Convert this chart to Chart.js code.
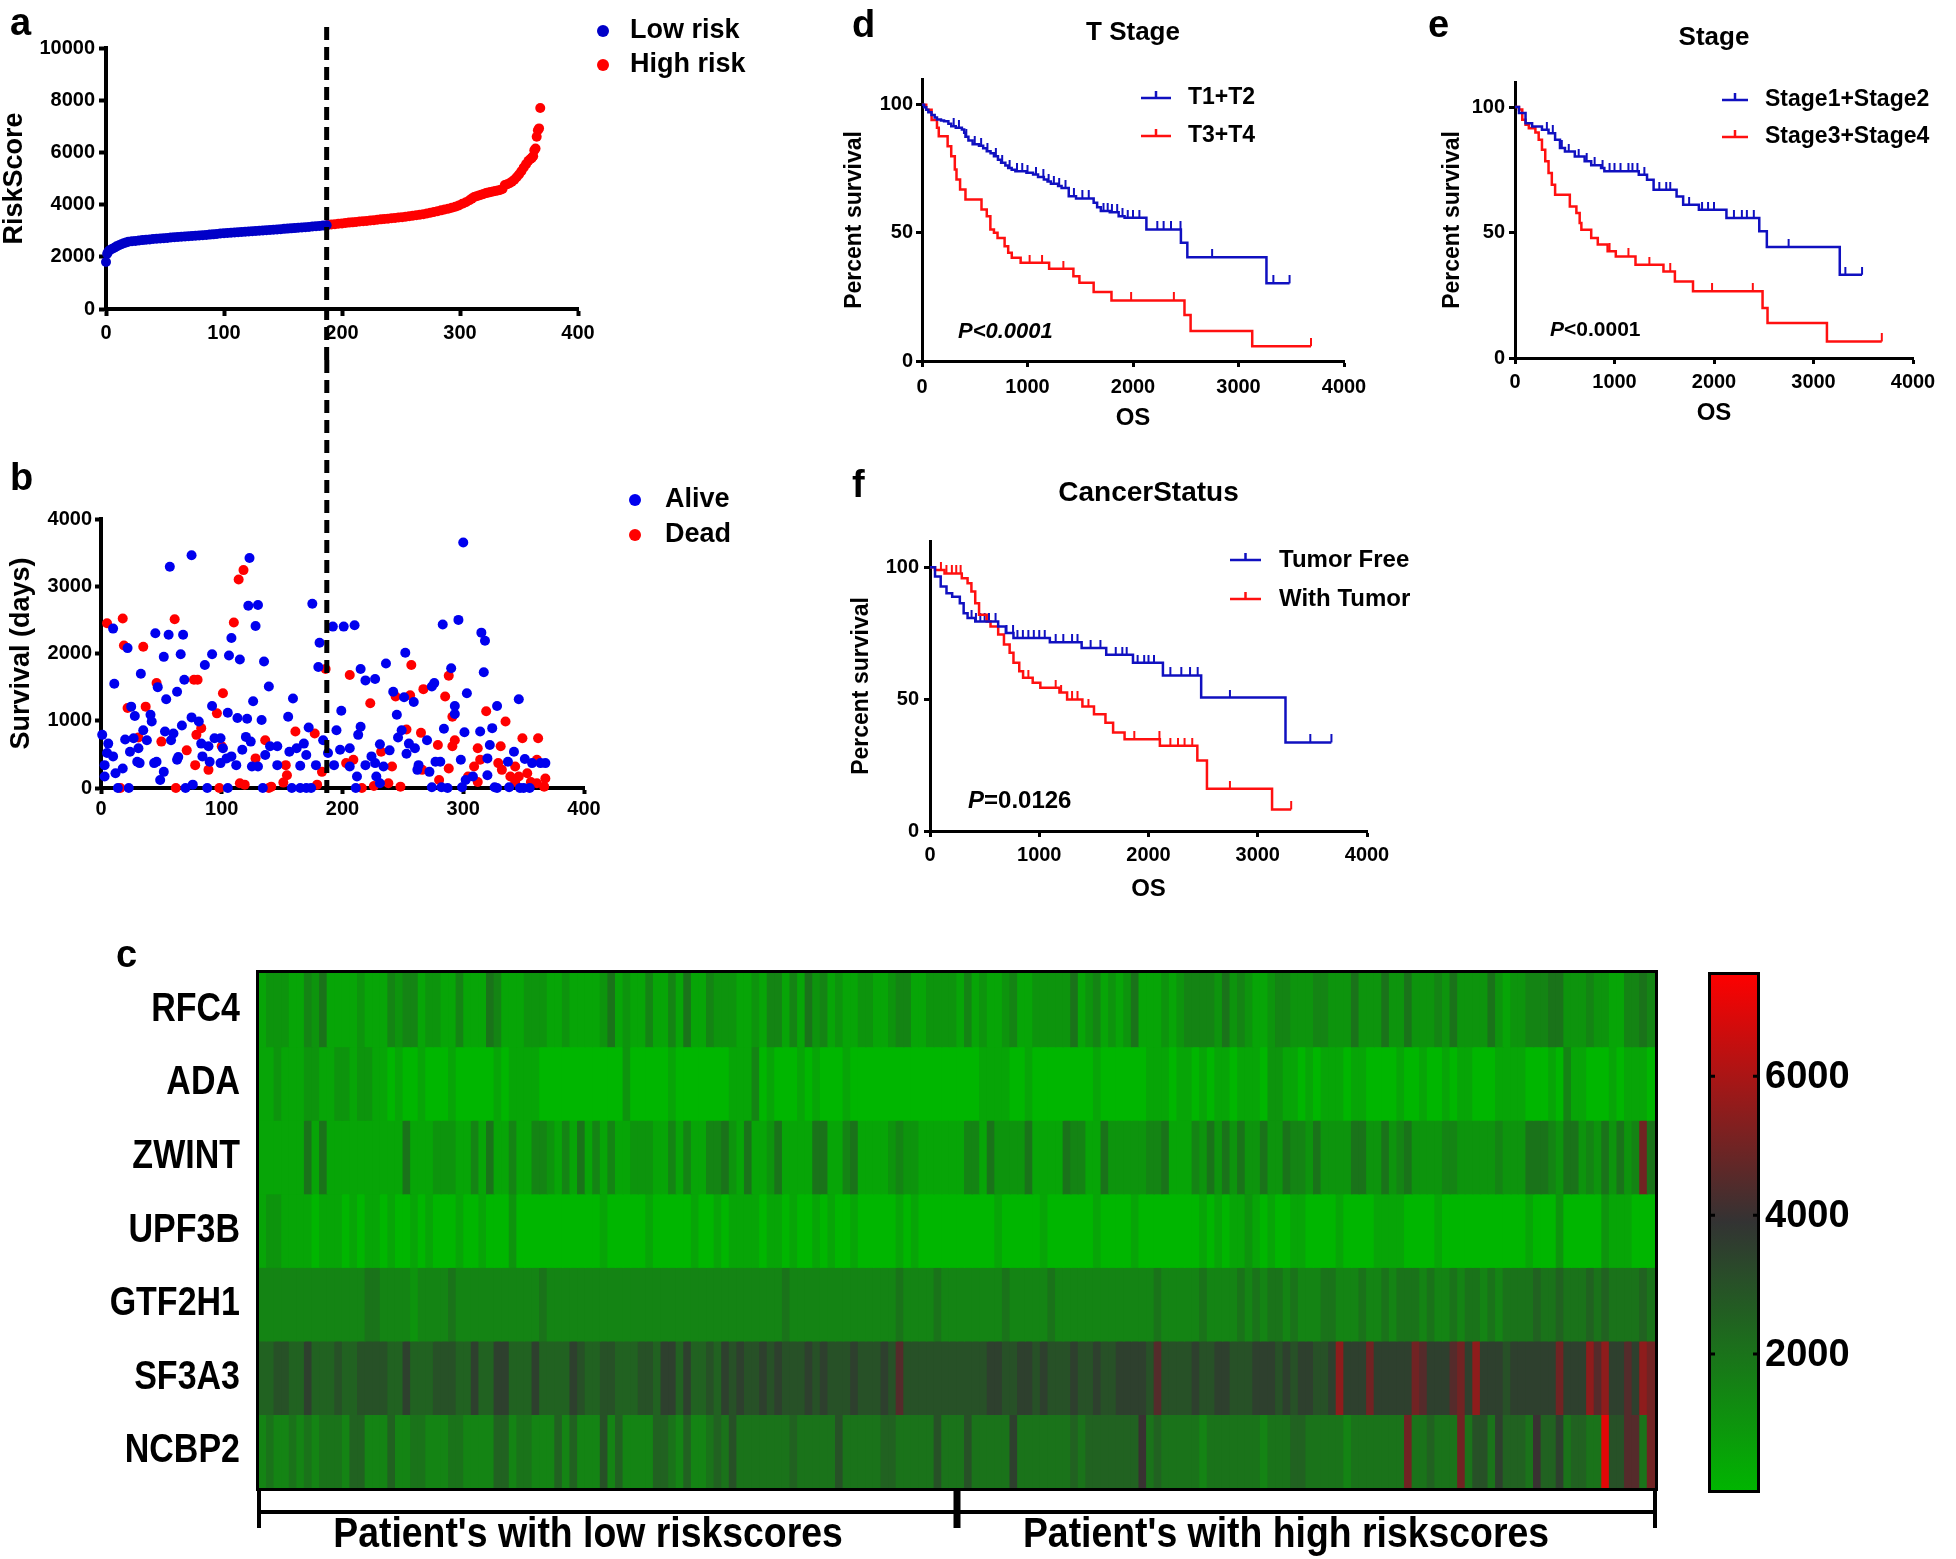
<!DOCTYPE html>
<html>
<head>
<meta charset="utf-8">
<title>Risk score model</title>
<script src="https://cdn.jsdelivr.net/npm/chart.js@4.4.1/dist/chart.umd.min.js"></script>
<style>
  html, body { margin: 0; padding: 0; background: #fff; }
  body { position: relative; width: 1956px; height: 1559px; overflow: hidden; }
  .panel { position: absolute; }
  .tag { position: absolute; font: bold 38px/38px "Liberation Sans", Arial, sans-serif; color: #000; }
</style>
</head>
<body>
<canvas id="riskChart" class="panel"></canvas>
<canvas id="survChart" class="panel"></canvas>
<canvas id="tStageChart" class="panel"></canvas>
<canvas id="stageChart" class="panel"></canvas>
<canvas id="statusChart" class="panel"></canvas>
<canvas id="heatChart" class="panel"></canvas>
<canvas id="scaleChart" class="panel"></canvas>

<div class="tag" style="left:10px;top:3px">a</div>
<div class="tag" style="left:10px;top:458px">b</div>
<div class="tag" style="left:116px;top:935px">c</div>
<div class="tag" style="left:852px;top:5px">d</div>
<div class="tag" style="left:1428px;top:5px">e</div>
<div class="tag" style="left:852px;top:465px">f</div>

<script>
// ---------- data ----------

// (a) risk score of each patient, sorted
const lowRiskIdx = [0, 1, 2, 3, 5, 7, 9, 11, 13, 15, 17, 19, 22, 25, 28, 31, 34, 37, 40, 43, 46, 49, 52, 55, 58, 61, 64, 67, 70, 73, 76, 79, 82, 85, 88, 91, 94, 97, 100, 103, 106, 109, 112, 115, 118, 121, 124, 127, 130, 133, 136, 139, 142, 145, 148, 151, 154, 157, 160, 163, 166, 169, 172, 175, 178, 181, 184, 187];
const lowRiskScore = [1800, 2120, 2200, 2250, 2300, 2350, 2400, 2440, 2480, 2520, 2550, 2580, 2600, 2610, 2625, 2640, 2650, 2665, 2680, 2690, 2700, 2715, 2725, 2740, 2750, 2760, 2770, 2780, 2790, 2800, 2810, 2820, 2830, 2840, 2850, 2860, 2875, 2890, 2900, 2910, 2920, 2930, 2940, 2950, 2960, 2970, 2980, 2990, 3000, 3010, 3020, 3030, 3040, 3050, 3060, 3070, 3080, 3090, 3100, 3110, 3120, 3130, 3140, 3160, 3170, 3180, 3195, 3210];
const highRiskIdx = [188, 191, 194, 197, 200, 203, 206, 209, 212, 215, 218, 221, 224, 227, 230, 233, 236, 239, 242, 245, 248, 251, 254, 257, 260, 263, 266, 269, 272, 275, 278, 281, 284, 287, 290, 293, 296, 299, 302, 305, 308, 310, 312, 314, 316, 318, 320, 322, 324, 326, 328, 330, 332, 334, 336, 338, 340, 342, 344, 346, 348, 350, 352, 354, 356, 358, 360, 361, 362, 363, 364, 365, 366, 367, 368];
const highRiskScore = [3220, 3235, 3250, 3265, 3280, 3295, 3310, 3320, 3335, 3350, 3360, 3375, 3390, 3405, 3420, 3435, 3445, 3460, 3475, 3490, 3505, 3520, 3535, 3555, 3570, 3590, 3610, 3635, 3660, 3690, 3720, 3750, 3780, 3810, 3840, 3880, 3920, 3970, 4030, 4090, 4170, 4230, 4290, 4320, 4350, 4380, 4410, 4440, 4460, 4480, 4500, 4520, 4540, 4560, 4600, 4750, 4780, 4820, 4880, 4950, 5050, 5150, 5280, 5420, 5550, 5680, 5760, 5800, 5850, 6080, 6150, 6600, 6850, 6920, 7700];
const cutoffIdx = 187;

// (b) survival time of each patient, [patient index, days]
const alivePoints = [
  [75, 3460], [57, 3290], [123, 3420], [122, 2710], [130, 2720], [128, 2410], [175, 2740], [192, 2400], [201, 2400], [181, 2160],
  [180, 1800], [10, 2370], [22, 2080], [45, 2300], [56, 2280], [68, 2280], [52, 1950], [66, 1990], [33, 1700], [11, 1550],
  [47, 1500], [54, 1320], [63, 1430], [69, 1610], [86, 1830], [92, 1990], [106, 1970], [115, 1910], [108, 2230], [135, 1880],
  [139, 1510], [159, 1330], [155, 1060], [199, 1150], [92, 1220], [105, 1120], [113, 1040], [121, 1030], [126, 1290], [133, 1010],
  [25, 1210], [28, 1070], [41, 1090], [42, 990], [35, 860], [38, 710], [53, 840], [60, 810], [58, 710], [67, 930],
  [75, 1050], [81, 990], [1, 790], [6, 660], [5, 520], [10, 470], [3, 340], [3, 170], [12, 220], [18, 290],
  [14, 0], [23, 0], [20, 720], [27, 740], [24, 540], [31, 590], [30, 390], [32, 370], [44, 370], [46, 390],
  [52, 240], [49, 120], [64, 460], [63, 420], [70, 0], [76, 50], [88, 0], [105, 0], [83, 660], [89, 620],
  [94, 740], [99, 740], [101, 590], [90, 390], [84, 470], [99, 370], [104, 440], [108, 470], [112, 340], [117, 570],
  [120, 760], [124, 690], [125, 320], [130, 320], [140, 620], [136, 490], [146, 620], [146, 340], [134, 0], [158, 0],
  [165, 0], [170, 0], [174, 0], [156, 540], [162, 590], [168, 660], [172, 900], [170, 490], [178, 340], [165, 330],
  [184, 710], [188, 520], [195, 860], [198, 570], [193, 340],
  [300, 3650], [210, 2420], [283, 2430], [296, 2500], [315, 2310], [318, 2190], [317, 1720], [215, 1770], [219, 1600], [227, 1620],
  [236, 1850], [252, 2010], [290, 1780], [242, 1430], [251, 1350], [259, 1280], [274, 1510], [276, 1560], [293, 1220], [293, 1100],
  [303, 1410], [328, 1220], [346, 1320], [245, 1090], [215, 910], [213, 790], [249, 860], [246, 750], [284, 880], [301, 830],
  [314, 840], [324, 890], [270, 710], [255, 660], [260, 590], [253, 510], [231, 650], [239, 560], [224, 470], [219, 340],
  [227, 370], [234, 320], [206, 590], [206, 320], [212, 170], [228, 170], [231, 70], [211, 0], [263, 340], [262, 270],
  [272, 240], [277, 390], [281, 390], [298, 420], [274, 10], [282, 10], [287, 0], [299, 10], [302, 120], [308, 170],
  [320, 440], [320, 190], [322, 640], [337, 390], [342, 540], [351, 430], [357, 370], [364, 370], [368, 370], [326, 10],
  [328, 0], [338, 10], [347, 0], [350, 0], [355, 0]
];
const deadPoints = [
  [118, 3240], [114, 3100], [110, 2460], [5, 2450], [18, 2520], [19, 2120], [35, 2100], [61, 2510], [186, 1770], [206, 1680],
  [46, 1560], [77, 1610], [80, 1610], [101, 1410], [96, 1110], [37, 1210], [22, 1190], [83, 890], [79, 790], [50, 690],
  [31, 750], [16, 0], [62, 0], [98, 0], [115, 70], [119, 50], [71, 560], [100, 620], [89, 270], [78, 340],
  [128, 440], [136, 710], [153, 340], [154, 190], [151, 80], [141, 20], [139, 0], [179, 50], [161, 840], [177, 810],
  [183, 240], [203, 370],
  [257, 1830], [288, 1670], [244, 1360], [256, 1380], [267, 1470], [285, 1360], [291, 1060], [319, 1140], [335, 990], [223, 1260],
  [253, 870], [265, 820], [293, 710], [291, 620], [279, 640], [232, 540], [241, 320], [209, 420], [238, 70], [248, 20],
  [226, 30], [216, 0], [266, 270], [288, 290], [280, 120], [304, 170], [309, 320], [312, 590], [314, 420], [312, 90],
  [331, 620], [329, 370], [332, 270], [343, 320], [339, 170], [349, 740], [362, 740], [361, 420], [353, 220], [346, 170],
  [368, 140], [361, 70], [356, 90], [367, 20], [343, 90]
];

// (d) T stage, Kaplan-Meier steps: time (days) and percent survival after that time
const t12Time = [0, 20, 40, 60, 90, 120, 142, 180, 209, 250, 277, 320, 378, 400, 412, 440, 480, 540, 580, 614, 650, 682, 720, 750, 790, 817, 850, 885, 990, 1053, 1100, 1155, 1190, 1222, 1290, 1323, 1391, 1460, 1627, 1660, 1695, 1780, 1864, 1920, 2127, 2454, 2515, 3265, 3484];
const t12Surv = [100, 99, 98, 97, 96, 95, 94.2, 93.8, 93.5, 92.5, 91.6, 91, 90.3, 89, 87.5, 86, 84.5, 84, 83, 81.8, 81, 79.9, 78.5, 77.3, 76.3, 75.3, 74.6, 74, 73.4, 72.7, 71.8, 70.8, 70, 69.1, 68.3, 67.5, 64.3, 63.4, 61.7, 60, 58.5, 58, 56.5, 55.9, 51.3, 46.1, 40.5, 30.3, 30.3];
const t12Censor = [300, 350, 420, 500, 560, 620, 700, 760, 830, 900, 950, 1000, 1080, 1150, 1200, 1250, 1300, 1360, 1440, 1520, 1580, 1720, 1760, 1800, 1850, 1900, 1950, 2000, 2060, 2230, 2290, 2360, 2450, 2750, 3330, 3484];
const t34Time = [0, 40, 91, 142, 159, 243, 277, 311, 327, 361, 412, 564, 614, 648, 682, 716, 783, 817, 851, 935, 1205, 1435, 1492, 1627, 1796, 2488, 2546, 3130, 3687];
const t34Surv = [100, 98, 94, 91, 87.7, 83.8, 79.9, 74.7, 70.8, 66.9, 63, 59.1, 56.5, 51.3, 50, 48, 44.8, 42.2, 40.3, 38.3, 36, 33.1, 30.5, 26.9, 23.6, 17.9, 11.7, 5.8, 5.8];
const t34Censor = [1020, 1138, 1340, 1982, 2387, 3687];

// (e) Stage
const s12Time = [0, 40, 106, 172, 271, 337, 403, 452, 502, 601, 700, 766, 865, 898, 1244, 1327, 1393, 1624, 1690, 1848, 2125, 2455, 2531, 3264, 3488];
const s12Surv = [100, 97.6, 93.6, 92.3, 91, 89.6, 87, 83.7, 82.3, 80.3, 78.4, 76.8, 75.7, 74.4, 73, 71, 67.1, 64.4, 61.1, 59.1, 55.8, 50.5, 44.2, 33.2, 33.2];
const s12Censor = [320, 380, 470, 540, 640, 720, 800, 880, 950, 1000, 1060, 1140, 1180, 1230, 1300, 1450, 1520, 1560, 1750, 1880, 1940, 2000, 2200, 2280, 2330, 2400, 2750, 3320, 3488];
const s34Time = [0, 40, 73, 106, 139, 205, 238, 271, 304, 337, 370, 403, 551, 617, 650, 667, 766, 832, 931, 1013, 1211, 1492, 1607, 1789, 2488, 2538, 3135, 3686];
const s34Surv = [100, 99, 95, 93, 91.6, 89.9, 87, 83, 78.4, 73.7, 69, 65.1, 60.4, 57.8, 53.8, 51.1, 47.8, 45.2, 42.5, 40.5, 37.2, 34.5, 30.5, 26.6, 19.9, 13.9, 6.6, 6.6];
const s34Censor = [950, 1140, 1350, 1560, 1980, 2390, 3686];

// (f) Cancer status
const freeTime = [0, 46, 98, 151, 203, 273, 308, 344, 414, 624, 694, 764, 1097, 1388, 1613, 1858, 2132, 2482, 3254, 3674];
const freeSurv = [100, 96.5, 92.7, 90.2, 88.9, 86.4, 82.6, 80.8, 79.5, 77.6, 75.1, 73.2, 71.6, 69.4, 66.9, 63.8, 59, 50.6, 33.6, 33.6];
const freeCensor = [380, 420, 460, 500, 540, 600, 700, 760, 800, 850, 900, 950, 1000, 1050, 1150, 1220, 1300, 1350, 1470, 1560, 1700, 1760, 1800, 1900, 1960, 2000, 2050, 2200, 2300, 2380, 2450, 2745, 3481, 3674];
const tumorTime = [0, 46, 133, 291, 344, 379, 414, 449, 519, 554, 624, 677, 729, 764, 817, 852, 940, 1010, 1185, 1255, 1395, 1501, 1606, 1676, 1781, 2104, 2447, 2535, 3131, 3306];
const tumorSurv = [100, 99, 97.7, 95.9, 94, 90.8, 86.4, 82, 79.5, 77.6, 74.5, 70.7, 67.6, 63.8, 60.6, 58.1, 56.2, 54.3, 52.5, 49.9, 47.2, 44.3, 41.1, 37.4, 34.8, 32.3, 26.7, 16, 8.2, 8.2];
const tumorCensor = [100, 150, 200, 240, 280, 900, 1150, 1200, 1300, 1350, 1450, 1870, 2100, 2200, 2270, 2330, 2400, 2745, 3306];

// (c) heatmap: one string per gene, one character per column (2 patients),
// hex digit = expression level in steps of 500
const genes = ['RFC4', 'ADA', 'ZWINT', 'UPF3B', 'GTF2H1', 'SF3A3', 'NCBP2'];
const heatLevels = [
  '1222113241 1112111323 3122113111 4311122211 2111124121 1311314113 22 ' +
  '2112133131 4231211221 1233112222 1312112311 2222241231 2124111212 33 ' +
  '3324232112 3322233222 4222422422 2324222242 1223334422 2322113343',
  '1121112211 2212211010 0100010000 0101111000 0000000020 0000100000 00 ' +
  '1113010001 0100010000 0000000000 0001111001 0000000010 0000011101 10 ' +
  '1011011102 2110101110 1100001001 0010110001 1110001031 1000101110',
  '1111114141 1111111114 1112221131 4113113321 3141313112 2211313113 34 ' +
  '2141124111 1441134111 1232211111 1331422224 1111433114 2222233411 13 ' +
  '2424242242 2433242222 4422423422 2233222223 2224443244 23242423A4',
  '1221111011 1010110100 1010001001 0002000000 0000010000 0100000100 10 ' +
  '1111011010 0101001000 0010100000 0000010000 0100000010 0001000000 00 ' +
  '1010112101 0011000010 0001111000 0100000000 0001000200 0002111000',
  '3333333333 3333443333 2333343333 3333333433 3333333333 3333333333 33 ' +
  '3333333433 3333333333 3343333433 3333334333 3343333333 3333334333 33 ' +
  '4333343434 4343334433 3433434443 4334344343 4444544544 4545444454',
  '5566557555 6556666557 5556665575 5775557555 5765566555 6657757556 57 ' +
  '6766767666 7676667666 7696666666 6666776677 6766676676 6777769666 67 ' +
  '6677666777 67677667B7 77A77777A9 7779A7B777 6777777A77 7B9B7797BA',
  '3433434344 4355333533 4433344333 3553443335 3533363533 3355435334 54 ' +
  '6444444454 4444644444 5544444644 4644444744 4444454555 5555845444 44 ' +
  '3444444434 4455444443 4444444A44 5444A46647 5554855745 544E66994A'
];
const levelStep = 500;
const groupNames = ["Patient's with low riskscores", "Patient's with high riskscores"];

// colour scale of the heatmap
const cmapStops = [0, 3900, 7500];
const cmapRGB = [[0, 182, 0], [51, 51, 51], [255, 0, 0]];
const cmapTicks = [2000, 4000, 6000];

// ---------- helpers ----------
const FONT = '"Liberation Sans", Arial, Helvetica, sans-serif';
Chart.defaults.font.family = FONT;
Chart.defaults.font.weight = 'bold';
Chart.defaults.color = '#000';
Chart.defaults.animation = false;
Chart.defaults.events = [];
Chart.defaults.plugins.legend.display = false;
Chart.defaults.plugins.tooltip.enabled = false;

const BLUE_A = '#0000c8';
const BLUE = '#0000ee';
const RED = '#ff0000';
const KM_BLUE = '#1010c0';
const KM_RED = '#ff1010';

function place(id, box) {
  const c = document.getElementById(id);
  c.width = box[2];
  c.height = box[3];
  c.style.left = box[0] + 'px';
  c.style.top = box[1] + 'px';
  c.style.width = box[2] + 'px';
  c.style.height = box[3] + 'px';
  return c;
}

// layout padding so that the plot area lands on `area` inside `box`
function padFor(box, area, leftAxis, bottomAxis, rightAxis) {
  return {
    left: area[0] - box[0] - leftAxis,
    top: area[1] - box[1],
    right: box[0] + box[2] - area[2] - (rightAxis || 0),
    bottom: box[1] + box[3] - area[3] - bottomAxis
  };
}

function linearAxis(o) {
  return {
    type: 'linear',
    min: o.min,
    max: o.max,
    border: { display: true, color: '#000', width: o.line },
    grid: { display: true, drawOnChartArea: false, drawTicks: true, tickLength: o.tick, tickWidth: o.line, tickColor: '#000' },
    ticks: {
      stepSize: o.step, includeBounds: false, autoSkip: false, maxRotation: 0,
      padding: o.pad, color: '#000', font: { size: o.font, weight: 'bold' },
      callback: v => String(v)
    },
    title: o.title
      ? { display: true, text: o.title, color: '#000', font: { size: o.titleSize, weight: 'bold', lineHeight: 1 }, padding: o.titlePad }
      : { display: false },
    afterFit: s => { if (s.isHorizontal()) s.height = o.fit; else s.width = o.fit; }
  };
}

function rgb(c) { return `rgb(${Math.round(c[0])},${Math.round(c[1])},${Math.round(c[2])})`; }

function heatColor(v) {
  const i = v <= cmapStops[1] ? 0 : 1;
  const t = Math.min(1, Math.max(0, (v - cmapStops[i]) / (cmapStops[i + 1] - cmapStops[i])));
  const a = cmapRGB[i], b = cmapRGB[i + 1];
  return rgb([a[0] + (b[0] - a[0]) * t, a[1] + (b[1] - a[1]) * t, a[2] + (b[2] - a[2]) * t]);
}

// survival value of a step curve at time t
function survAt(times, surv, t) {
  let s = surv[0];
  times.forEach((tt, i) => { if (tt <= t) s = surv[i]; });
  return s;
}

// small upward tick used for censored patients
function censorMark(color) {
  const c = document.createElement('canvas');
  c.width = 4;
  c.height = 16;
  const g = c.getContext('2d');
  g.fillStyle = color;
  g.fillRect(1, 0, 2, 8);
  return c;
}

// ---------- plugins ----------
const sideLegend = {
  id: 'sideLegend',
  afterDraw(chart, args, o) {
    const ctx = chart.ctx;
    const items = chart.data.datasets.filter(d => d.label);
    ctx.save();
    ctx.font = `bold ${o.size}px ${FONT}`;
    ctx.textBaseline = 'middle';
    ctx.textAlign = 'left';
    items.forEach((d, i) => {
      const y = o.y + i * o.gap;
      const col = d.borderColor || d.backgroundColor;
      if (o.mark === 'dot') {
        ctx.fillStyle = col;
        ctx.beginPath();
        ctx.arc(o.x, y, o.r, 0, Math.PI * 2);
        ctx.fill();
      } else {
        ctx.strokeStyle = col;
        ctx.lineWidth = 2.5;
        ctx.beginPath();
        ctx.moveTo(o.x, y);
        ctx.lineTo(o.x + o.len, y);
        ctx.moveTo(o.x + o.len / 2, y);
        ctx.lineTo(o.x + o.len / 2, y - 7);
        ctx.stroke();
      }
      ctx.fillStyle = '#000';
      ctx.fillText(d.label, o.textX, y);
    });
    ctx.restore();
  }
};

const cutLine = {
  id: 'cutLine',
  afterDraw(chart, args, o) {
    const ctx = chart.ctx;
    const x = chart.scales.x.getPixelForValue(o.value);
    const y1 = o.to === 'axis' ? chart.chartArea.bottom + 5 : chart.height;
    ctx.save();
    ctx.strokeStyle = '#000';
    ctx.lineWidth = 5;
    ctx.setLineDash([13, 7]);
    ctx.beginPath();
    ctx.moveTo(x, o.from);
    ctx.lineTo(x, y1);
    ctx.stroke();
    ctx.restore();
  }
};

const kmNotes = {
  id: 'kmNotes',
  afterDraw(chart, args, o) {
    const { ctx, chartArea, scales } = chart;
    ctx.save();
    ctx.fillStyle = '#000';
    ctx.textBaseline = 'middle';
    ctx.textAlign = 'center';
    ctx.font = `bold ${o.titleSize}px ${FONT}`;
    ctx.fillText(o.title, (chartArea.left + chartArea.right) / 2, o.titleY);
    ctx.textAlign = 'left';
    let x = scales.x.getPixelForValue(o.pAt[0]);
    const y = scales.y.getPixelForValue(o.pAt[1]);
    o.pParts.forEach(([txt, italic]) => {
      ctx.font = `${italic ? 'italic ' : ''}bold ${o.pSize}px ${FONT}`;
      ctx.fillText(txt, x, y);
      x += ctx.measureText(txt).width;
    });
    ctx.restore();
  }
};

const heatDecor = {
  id: 'heatDecor',
  afterDraw(chart, args, o) {
    const { ctx, chartArea: a, scales } = chart;
    ctx.save();
    ctx.strokeStyle = '#000';
    ctx.lineWidth = 3;
    ctx.strokeRect(a.left - 1.5, a.top - 1.5, a.right - a.left + 3, a.bottom - a.top + 3);

    ctx.fillStyle = '#000';
    ctx.textAlign = 'right';
    ctx.textBaseline = 'middle';
    ctx.font = `bold ${o.geneSize}px ${FONT}`;
    genes.forEach((g, i) => {
      const y = scales.y.getPixelForValue(i + 0.5);
      ctx.save();
      ctx.translate(a.left - 19, y);
      ctx.scale(o.narrow, 1);
      ctx.fillText(g, 0, 0);
      ctx.restore();
    });

    // bracket under the heatmap
    const split = (scales.x.getPixelForValue(o.split - 1) + scales.x.getPixelForValue(o.split)) / 2;
    ctx.lineWidth = 4;
    ctx.beginPath();
    ctx.moveTo(a.left, a.bottom + 24);
    ctx.lineTo(a.right, a.bottom + 24);
    ctx.stroke();
    [[a.left, 4], [split, 7], [a.right, 4]].forEach(([x, w]) => {
      ctx.lineWidth = w;
      ctx.beginPath();
      ctx.moveTo(x, a.bottom);
      ctx.lineTo(x, a.bottom + 40);
      ctx.stroke();
    });

    ctx.textAlign = 'center';
    ctx.textBaseline = 'alphabetic';
    ctx.font = `bold ${o.groupSize}px ${FONT}`;
    [[a.left, split, groupNames[0]], [split, a.right, groupNames[1]]].forEach(([x0, x1, txt]) => {
      ctx.save();
      ctx.translate((x0 + x1) / 2 - 20, a.bottom + 59);
      ctx.scale(o.groupNarrow, 1);
      ctx.fillText(txt, 0, 0);
      ctx.restore();
    });
    ctx.restore();
  }
};

// inner tick marks and labels of the colour key
const barTicks = {
  id: 'barTicks',
  afterDraw(chart, args, o) {
    const { ctx, chartArea: a, scales } = chart;
    ctx.save();
    ctx.strokeStyle = '#000';
    ctx.fillStyle = '#000';
    ctx.lineWidth = 3;
    ctx.font = `bold ${o.size}px ${FONT}`;
    ctx.textAlign = 'left';
    ctx.textBaseline = 'middle';
    cmapTicks.forEach(v => {
      const y = scales.y.getPixelForValue(v);
      ctx.beginPath();
      ctx.moveTo(a.left, y);
      ctx.lineTo(a.left + 7, y);
      ctx.moveTo(a.right - 7, y);
      ctx.lineTo(a.right, y);
      ctx.stroke();
      ctx.fillText(String(v), a.right + o.gap, y + 1);
    });
    ctx.restore();
  }
};

// ---------- (a) risk score ----------
const boxA = [0, 0, 780, 360], areaA = [106, 48, 578, 309];
new Chart(place('riskChart', boxA), {
  type: 'scatter',
  data: {
    datasets: [
      { label: 'Low risk', data: lowRiskIdx.map((x, i) => ({ x, y: lowRiskScore[i] })), backgroundColor: BLUE_A, borderColor: BLUE_A, pointRadius: 5, borderWidth: 0, clip: false },
      { label: 'High risk', data: highRiskIdx.map((x, i) => ({ x, y: highRiskScore[i] })), backgroundColor: RED, borderColor: RED, pointRadius: 5, borderWidth: 0, clip: false }
    ]
  },
  options: {
    responsive: false,
    layout: { padding: padFor(boxA, areaA, 106, 40) },
    scales: {
      x: linearAxis({ min: 0, max: 400, step: 100, line: 4, tick: 7, pad: 5, font: 20, fit: 40 }),
      y: linearAxis({ min: 0, max: 10000, step: 2000, line: 4, tick: 7, pad: 4, font: 20, fit: 106,
        title: 'RiskScore', titleSize: 27, titlePad: { top: 1.5, bottom: 0 } })
    },
    plugins: {
      sideLegend: { mark: 'dot', x: 603, y: 31, gap: 34, r: 6, textX: 630, size: 27 },
      cutLine: { value: cutoffIdx, from: 27, to: 'end' }
    }
  },
  plugins: [sideLegend, cutLine]
});

// ---------- (b) survival status ----------
const boxB = [0, 360, 780, 480], areaB = [101, 519, 584, 788];
new Chart(place('survChart', boxB), {
  type: 'scatter',
  data: {
    datasets: [
      { label: 'Alive', data: alivePoints.map(p => ({ x: p[0], y: p[1] })), backgroundColor: BLUE, borderColor: BLUE, pointRadius: 5, borderWidth: 0, clip: false },
      { label: 'Dead', data: deadPoints.map(p => ({ x: p[0], y: p[1] })), backgroundColor: RED, borderColor: RED, pointRadius: 5, borderWidth: 0, clip: false }
    ]
  },
  options: {
    responsive: false,
    layout: { padding: padFor(boxB, areaB, 101, 40) },
    scales: {
      x: linearAxis({ min: 0, max: 400, step: 100, line: 4, tick: 6, pad: 3, font: 20, fit: 40 }),
      y: linearAxis({ min: 0, max: 4000, step: 1000, line: 4, tick: 6, pad: 3, font: 20, fit: 101,
        title: 'Survival (days)', titleSize: 27, titlePad: { top: 8.5, bottom: 0 } })
    },
    plugins: {
      sideLegend: { mark: 'dot', x: 635, y: 140, gap: 35, r: 6, textX: 665, size: 27 },
      cutLine: { value: cutoffIdx, from: 0, to: 'axis' }
    }
  },
  plugins: [sideLegend, cutLine]
});

// ---------- (d)(e)(f) Kaplan-Meier ----------
function kmChart(id, box, area, k) {
  const datasets = [];
  k.groups.forEach(g => {
    datasets.push({
      label: g.label, type: 'line', stepped: 'before',
      data: g.time.map((t, i) => ({ x: t, y: g.surv[i] })),
      borderColor: g.color, backgroundColor: g.color, borderWidth: 2.5, pointRadius: 0, fill: false, clip: false
    });
  });
  k.groups.forEach(g => {
    datasets.push({
      type: 'line', showLine: false,
      data: g.censor.map(t => ({ x: t, y: survAt(g.time, g.surv, t) })),
      pointStyle: censorMark(g.color), pointRadius: 4, borderWidth: 0, clip: false
    });
  });
  return new Chart(place(id, box), {
    type: 'line',
    data: { datasets },
    options: {
      responsive: false,
      layout: { padding: padFor(box, area, k.yFit, 70) },
      scales: {
        x: linearAxis({ min: 0, max: 4000, step: 1000, line: 3, tick: 6, pad: k.xPad, font: 20, fit: 70,
          title: 'OS', titleSize: 24, titlePad: { top: 0, bottom: k.osPad } }),
        y: linearAxis({ min: 0, max: 110, step: 50, line: 3, tick: 6, pad: k.yPad, font: 20, fit: k.yFit,
          title: 'Percent survival', titleSize: 23, titlePad: { top: k.yTitlePad, bottom: 0 } })
      },
      plugins: {
        sideLegend: k.legend,
        kmNotes: k.notes
      }
    },
    plugins: [sideLegend, kmNotes]
  });
}

kmChart('tStageChart', [820, 0, 580, 440], [922, 79, 1344, 361], {
  groups: [
    { label: 'T1+T2', time: t12Time, surv: t12Surv, censor: t12Censor, color: KM_BLUE },
    { label: 'T3+T4', time: t34Time, surv: t34Surv, censor: t34Censor, color: KM_RED }
  ],
  yFit: 102, xPad: 8, yPad: 3, osPad: 1, yTitlePad: 23.5,
  legend: { mark: 'line', x: 321, len: 30, y: 98, gap: 38, textX: 368, size: 23 },
  notes: { title: 'T Stage', titleY: 33, titleSize: 26, pAt: [341, 11.3], pSize: 22, pParts: [['P<0.0001', true]] }
});

kmChart('stageChart', [1420, 0, 536, 440], [1515, 82, 1913, 358], {
  groups: [
    { label: 'Stage1+Stage2', time: s12Time, surv: s12Surv, censor: s12Censor, color: KM_BLUE },
    { label: 'Stage3+Stage4', time: s34Time, surv: s34Surv, censor: s34Censor, color: KM_RED }
  ],
  yFit: 95, xPad: 6, yPad: 4, osPad: 3, yTitlePad: 21.5,
  legend: { mark: 'line', x: 302, len: 26, y: 100, gap: 37, textX: 345, size: 23 },
  notes: { title: 'Stage', titleY: 38, titleSize: 26, pAt: [352, 11.2], pSize: 21, pParts: [['P', true], ['<0.0001', false]] }
});

kmChart('statusChart', [820, 470, 600, 440], [930, 541, 1367, 831], {
  groups: [
    { label: 'Tumor Free', time: freeTime, surv: freeSurv, censor: freeCensor, color: KM_BLUE },
    { label: 'With Tumor', time: tumorTime, surv: tumorSurv, censor: tumorCensor, color: KM_RED }
  ],
  yFit: 110, xPad: 6, yPad: 5, osPad: 0, yTitlePad: 30.6,
  legend: { mark: 'line', x: 410, len: 31, y: 90, gap: 39, textX: 459, size: 24 },
  notes: { title: 'CancerStatus', titleY: 23, titleSize: 28, pAt: [348, 11.4], pSize: 24, pParts: [['P', true], ['=0.0126', false]] }
});

// ---------- (c) heatmap ----------
const heatValues = heatLevels.map(r => r.replace(/\s+/g, '').split('').map(ch => parseInt(ch, 16) * levelStep));
const boxH = [0, 930, 1680, 629], areaH = [259, 973, 1655, 1488];
new Chart(place('heatChart', boxH), {
  type: 'bar',
  data: {
    labels: heatValues[0].map((_, k) => k),
    datasets: genes.map((g, i) => ({
      label: g,
      data: heatValues[i].map(() => [i, i + 1]),
      backgroundColor: heatValues[i].map(heatColor),
      borderWidth: 0,
      grouped: false,
      barPercentage: 1,
      categoryPercentage: 1,
      inflateAmount: 0.6
    }))
  },
  options: {
    responsive: false,
    layout: { padding: padFor(boxH, areaH, 0, 0) },
    scales: {
      x: { type: 'category', display: false, offset: true },
      y: { type: 'linear', display: false, min: 0, max: genes.length, reverse: true }
    },
    plugins: {
      heatDecor: { split: heatValues[0].length / 2, geneSize: 40, narrow: 0.85, groupSize: 42, groupNarrow: 0.89 }
    }
  },
  plugins: [heatDecor]
});

// colour key
const boxS = [1650, 930, 306, 629], areaS = [1708, 972, 1760, 1493];
const cmapMax = cmapStops[cmapStops.length - 1];
new Chart(place('scaleChart', boxS), {
  type: 'bar',
  data: {
    labels: [''],
    datasets: [{
      data: [[cmapStops[0], cmapMax]],
      backgroundColor(c) {
        const chart = c.chart;
        const y = chart.scales.y;
        if (!chart.chartArea || !y) return rgb(cmapRGB[0]);
        const g = chart.ctx.createLinearGradient(0, y.getPixelForValue(cmapStops[0]), 0, y.getPixelForValue(cmapMax));
        cmapStops.forEach((v, i) => g.addColorStop(v / cmapMax, rgb(cmapRGB[i])));
        return g;
      },
      borderColor: '#000',
      borderWidth: 3,
      borderSkipped: false,
      barPercentage: 1,
      categoryPercentage: 1,
      inflateAmount: 0
    }]
  },
  options: {
    responsive: false,
    layout: { padding: padFor(boxS, areaS, 0, 0, 150) },
    scales: {
      x: { type: 'category', display: false, offset: true },
      y: {
        type: 'linear', position: 'right', min: cmapStops[0], max: cmapMax,
        border: { display: false },
        grid: { display: false, drawTicks: false },
        ticks: { display: false },
        afterFit: s => { s.width = 150; }
      }
    },
    plugins: {
      barTicks: { size: 38, gap: 5 }
    }
  },
  plugins: [barTicks]
});
</script>
</body>
</html>
